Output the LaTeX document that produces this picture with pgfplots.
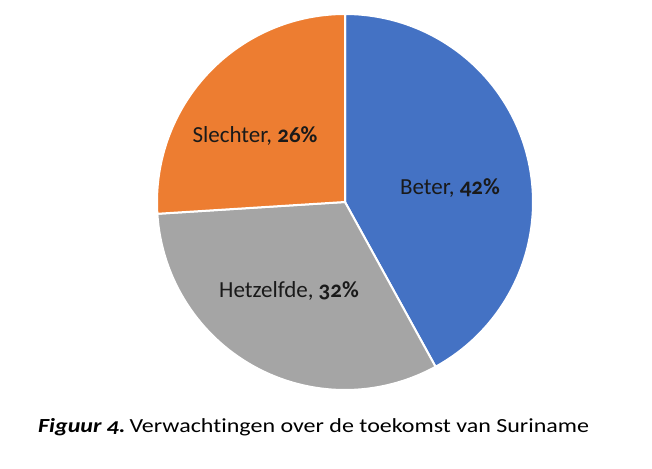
\documentclass[border=0pt]{standalone}
\usepackage{fontspec}
\setmainfont{Carlito}[Numbers=OldStyle, Ligatures=NoCommon]
\usepackage{pgfplots}
\usepackage{pgfplotstable}
\pgfplotsset{compat=1.18}
\definecolor{cBlue}{HTML}{4472C4}
\definecolor{cOrange}{HTML}{ED7D31}
\definecolor{cGray}{HTML}{A5A5A5}
\definecolor{cText}{HTML}{1A1A1A}
\pgfplotstableread{
cat pct
Beter 42
Hetzelfde 32
Slechter 26
}\piedata
\pgfplotstablegetelem{0}{pct}\of\piedata \let\pA\pgfplotsretval
\pgfplotstablegetelem{1}{pct}\of\piedata \let\pB\pgfplotsretval
\pgfplotstablegetelem{2}{pct}\of\piedata \let\pC\pgfplotsretval
\pgfmathsetmacro{\aA}{90}
\pgfmathsetmacro{\aB}{90-3.6*\pA}
\pgfmathsetmacro{\aC}{\aB-3.6*\pB}
\pgfmathsetmacro{\aD}{\aC-3.6*\pC}
\def\cx{345}\def\cy{266}\def\rr{188}
\begin{document}
\begin{tikzpicture}
\begin{axis}[scale only axis, width=652pt, height=468pt,
  xmin=0, xmax=652, ymin=0, ymax=468, hide axis, clip=false]
\path (axis cs:0,0) rectangle (axis cs:652,468);
\addplot[fill=cBlue, draw=white, line width=2pt, domain=\aB:\aA, samples=120, line join=round]
  ({\cx+\rr*cos(x)},{\cy+\rr*sin(x)}) -- (axis cs:\cx,\cy) -- cycle;
\addplot[fill=cGray, draw=white, line width=2pt, domain=\aC:\aB, samples=120, line join=round]
  ({\cx+\rr*cos(x)},{\cy+\rr*sin(x)}) -- (axis cs:\cx,\cy) -- cycle;
\addplot[fill=cOrange, draw=white, line width=2pt, domain=\aD:\aC, samples=120, line join=round]
  ({\cx+\rr*cos(x)},{\cy+\rr*sin(x)}) -- (axis cs:\cx,\cy) -- cycle;
\node[anchor=base, inner sep=0pt, text=cText, font=\fontsize{23}{26}\selectfont] at (axis cs:255,325) {Slechter, \textbf{26\%}};
\node[anchor=base, inner sep=0pt, text=cText, font=\fontsize{23}{26}\selectfont] at (axis cs:450,273) {Beter, \textbf{42\%}};
\node[anchor=base, inner sep=0pt, text=cText, font=\fontsize{23}{26}\selectfont] at (axis cs:289,170) {Hetzelfde, \textbf{32\%}};
\node[anchor=base west, inner sep=0pt, font=\fontsize{20}{24}\selectfont] at (axis cs:38,36) {\scalebox{1.2}[1]{\textbf{\textit{Figuur 4.}}\,Verwachtingen over de toekomst van Suriname}};
\end{axis}
\end{tikzpicture}
\end{document}
